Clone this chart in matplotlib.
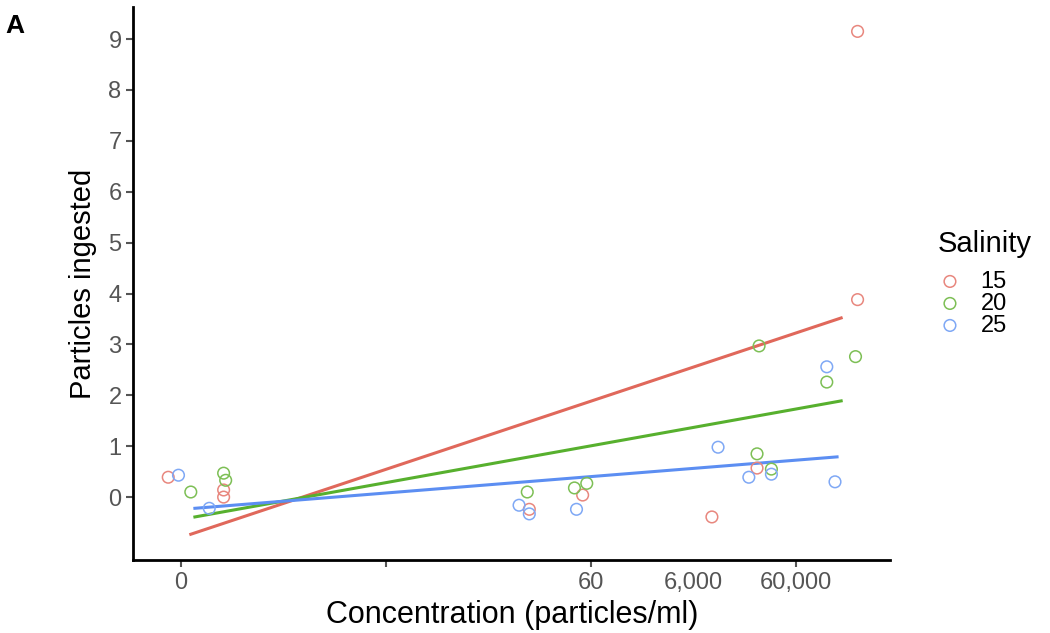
import numpy as np
import matplotlib.pyplot as plt

# x positions are on the categorical/log-like axis (0 -> "0", 2 -> "60", 3 -> "60,000")
x_15 = [-0.06, 0.21, 0.21, 1.70, 1.96, 2.59, 2.81, 3.30, 3.30]
y_15 = [0.39, 0.14, 0.00, -0.24, 0.04, -0.39, 0.57, 9.15, 3.88]

x_20 = [0.05, 0.21, 0.22, 1.69, 1.92, 1.98, 2.82, 2.81, 2.88, 3.15, 3.29]
y_20 = [0.10, 0.47, 0.33, 0.10, 0.18, 0.27, 2.97, 0.85, 0.55, 2.26, 2.76]

x_25 = [-0.01, 0.14, 1.65, 1.70, 1.93, 2.62, 2.77, 2.88, 3.15, 3.19]
y_25 = [0.43, -0.22, -0.16, -0.33, -0.24, 0.98, 0.39, 0.45, 2.56, 0.30]

# fitted line end points
fit_x = {"15": [0.05, 3.22], "20": [0.07, 3.22], "25": [0.07, 3.20]}
fit_y = {"15": [-0.73, 3.52], "20": [-0.39, 1.89], "25": [-0.22, 0.79]}

tick_pos = [0, 1, 2, 2.5, 3]
tick_labels = ["0", "", "60", "6,000", "60,000"]

point_colors = {"15": "#E8877E", "20": "#7DBF55", "25": "#7FA8F5"}
line_colors = {"15": "#E0685B", "20": "#57B02E", "25": "#5C8EF2"}

plt.rcParams['font.family'] = ['Liberation Sans', 'DejaVu Sans']

fig = plt.figure(figsize=(10.5, 6.33), dpi=100)
ax = fig.add_axes([0.127, 0.115, 0.721, 0.874])

series = {"15": (x_15, y_15), "20": (x_20, y_20), "25": (x_25, y_25)}
for key, (xs, ys) in series.items():
    ax.scatter(xs, ys, s=70, facecolors='none', edgecolors=point_colors[key],
               linewidths=1.1, label=key, zorder=3)
    ax.plot(fit_x[key], fit_y[key], color=line_colors[key], lw=2.2, zorder=2)

ax.set_xlim(-0.23, 3.46)
ax.set_ylim(-1.24, 9.63)
ax.set_yticks(range(0, 10))
ax.set_xticks(tick_pos)
ax.set_xticklabels(tick_labels)
ax.xaxis.get_major_ticks()[3].tick1line.set_visible(False)

for side in ['top', 'right']:
    ax.spines[side].set_visible(False)
for side in ['left', 'bottom']:
    ax.spines[side].set_linewidth(2)
    ax.spines[side].set_color('black')
ax.tick_params(axis='both', colors='#555555', labelsize=17, length=5, width=1.5)

ax.set_xlabel("Concentration (particles/ml)", fontsize=22, labelpad=4)
ax.set_ylabel("Particles ingested", fontsize=21, labelpad=8)

leg = ax.legend(title="Salinity", loc='upper left', bbox_to_anchor=(1.035, 0.635),
                frameon=False, fontsize=17, title_fontsize=21,
                handlelength=1.0, handletextpad=0.8, labelspacing=0.0,
                markerscale=1.0)
leg._legend_box.align = "left"
leg._legend_box.sep = 9

fig.text(0.005, 0.948, "A", fontsize=19, fontweight='bold')

fig.savefig("out.png", dpi=100)
